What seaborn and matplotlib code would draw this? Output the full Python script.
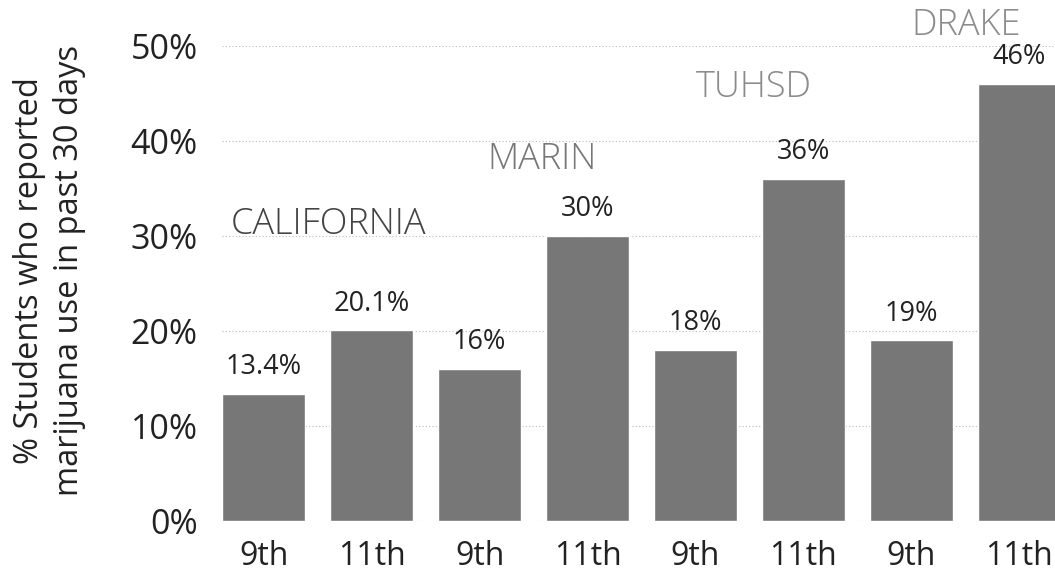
import pandas as pd
import seaborn as sns
from matplotlib import pyplot as plt

groups = ['CALIFORNIA', 'MARIN', 'TUHSD', 'DRAKE']
grades = ['9th', '11th']
values = [13.4, 20.1, 16, 30, 18, 36, 19, 46]
value_labels = ['13.4%', '20.1%', '16%', '30%', '18%', '36%', '19%', '46%']
yticks = [0, 10, 20, 30, 40, 50]

bar_keys = [g + ' ' + gr for g in groups for gr in grades]
df = pd.DataFrame({'key': bar_keys, 'value': values})

sns.set_style('white')
plt.rcParams['font.family'] = ['Open Sans', 'DejaVu Sans']

fig = plt.figure(figsize=(10.55, 5.75), dpi=100)
ax = fig.add_axes([0.21, 0.094, 0.79, 0.826])

sns.barplot(data=df, x='key', y='value', order=bar_keys, color='#777777',
            saturation=1, width=0.77, ax=ax)

ax.bar_label(ax.containers[0], labels=value_labels, padding=9,
             fontsize=19.5, color='#222222')

ax.set_ylim(0, 50)
ax.set_xlim(-0.39, 7.33)
ax.set_yticks(yticks)
ax.set_yticklabels([f'{t}%' for t in yticks])
ax.set_xticks(range(len(bar_keys)))
ax.set_xticklabels(grades * len(groups))
ax.tick_params(axis='y', labelsize=24.5, colors='#222222', length=0, pad=17)
ax.tick_params(axis='x', labelsize=23, colors='#222222', length=0, pad=14)
ax.yaxis.grid(True, color='#bbbbbb', linestyle=(0, (1, 2)), linewidth=0.8)
ax.set_axisbelow(True)
for s in ax.spines.values():
    s.set_visible(False)

ax.set_xlabel('')
ax.set_ylabel('% Students who reported\nmarijuana use in past 30 days',
              fontsize=23.5, color='#222222', linespacing=1.25)
ax.yaxis.set_label_coords(-0.163, 0.527)

# group labels
group_x = [0.6, 2.58, 4.54, 6.51]
group_y = [31.2, 38.0, 45.6, 52.2]
group_colors = ['#444444', '#777777', '#8c8c8c', '#8c8c8c']
for name, gx, gy, c in zip(groups, group_x, group_y, group_colors):
    ax.text(gx, gy, name, ha='center', va='center', fontsize=26,
            fontweight='light', color=c, clip_on=False)

plt.savefig('out.png', dpi=100)
